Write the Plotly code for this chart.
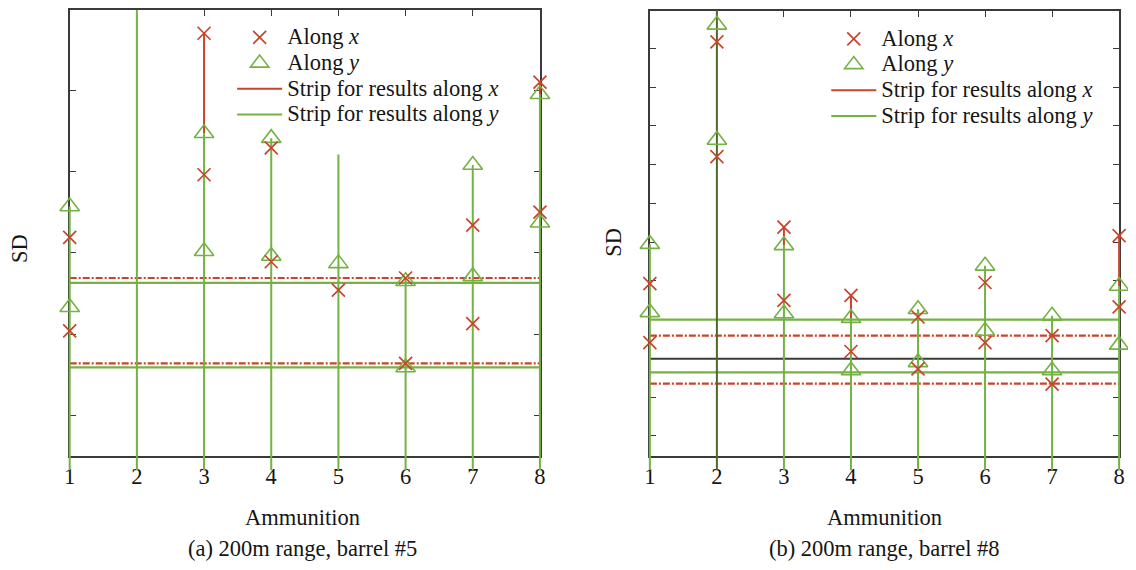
import plotly.graph_objects as go

# page is shown with the browser's default 8px body margin -> work in page pixels, shift by OFF
W, H = 1136, 570
OFF = 8
FW, FH = W - OFF, H - OFF

# ---------------- data ----------------
ammo = [1, 2, 3, 4, 5, 6, 7, 8]
tick_labels = ["1", "2", "3", "4", "5", "6", "7", "8"]

# (a) 200m range, barrel #5
a_along_x_hi = [2.19, None, 4.70, 3.29, 1.54, 1.69, 2.34, 4.10]
a_along_x_lo = [1.04, None, 2.96, 1.89, None, 0.64, 1.13, 2.50]
a_along_y_hi = [2.57, None, 3.47, 3.41, 1.87, 1.65, 3.08, 3.95]
a_along_y_lo = [1.33, None, 2.02, 1.96, None, 0.59, 1.71, 2.37]
a_stem_green = [2.57, 5.30, 3.47, 3.41, 3.21, 1.69, 3.08, 3.95]
a_stem_red = [None, None, 4.70, None, None, None, None, 4.10]
a_stem_dark = [None] * 8
a_strip_x = [0.64, 1.69]
a_strip_y = [0.59, 1.63]
a_ref = []

# (b) 200m range, barrel #8
b_along_x_hi = [3.93, 10.17, 5.39, 3.63, 3.07, 3.96, 2.59, 5.17]
b_along_x_lo = [2.41, 7.21, 3.50, 2.18, 1.73, 2.41, 1.34, 3.33]
b_along_y_hi = [4.95, 10.61, 4.92, 3.04, 3.27, 4.39, 3.10, 3.87]
b_along_y_lo = [3.19, 7.64, 3.16, 1.69, 1.90, 2.71, 1.69, 2.35]
b_stem_green = [4.95, None, 4.92, 3.04, 3.27, 4.39, 3.10, 3.87]
b_stem_red = [None, None, 5.39, 3.63, None, None, None, 5.17]
b_stem_dark = [None, 11.5, None, None, None, None, None, None]
b_strip_x = [1.35, 2.59]
b_strip_y = [1.64, 3.00]
b_ref = [1.99]

# ---------------- styles ----------------
RED = "#c8442c"
GREEN = "#74b243"
DARK = "#4c6a2a"
FRAME = "#3a3a3a"
FONT = "Liberation Serif"
TXT = "#151515"
FS = 22.5

fig = go.Figure()


def clamp(v):
    return min(1.0, max(0.0, v))


def xdom(p0, p1):
    return [clamp((p0 - OFF) / FW), clamp((p1 - OFF) / FW)]


def ydom(top, bot):
    return [clamp(1 - (bot - OFF) / FH), clamp(1 - (top - OFF) / FH)]


def data_box(frame, xr, yr, dpx):
    fx0, fx1, fy0, fy1 = frame
    dx0, dx1, dy0, dy1 = dpx
    sx = (xr[1] - xr[0]) / (fx1 - fx0)
    sy = (yr[1] - yr[0]) / (fy1 - fy0)
    dxr = [xr[0] - (fx0 - dx0) * sx, xr[1] + (dx1 - fx1) * sx]
    dyr = [yr[0] - (dy1 - fy1) * sy, yr[1] + (fy0 - dy0) * sy]
    return xdom(dx0, dx1), ydom(dy0, dy1), dxr, dyr


def legtxt(s):
    return f"<span style='font-size:{FS}px'>{s}</span>"


panels = [
    dict(frame=(64.3, 539.6, 8.0, 455.7), yr=[-0.5, 4.986], ticks=list(range(0, 6)),
         data=(54, 550, 8, 470),
         xhi=a_along_x_hi, xlo=a_along_x_lo, yhi=a_along_y_hi, ylo=a_along_y_lo,
         sg=a_stem_green, sr=a_stem_red, sd=a_stem_dark, stx=a_strip_x, sty=a_strip_y, ref=a_ref,
         legend="legend"),
    dict(frame=(650.7, 1125.0, 9.3, 455.7), yr=[-0.52, 10.96], ticks=list(range(0, 12)),
         data=(640, 1136, 8, 470),
         xhi=b_along_x_hi, xlo=b_along_x_lo, yhi=b_along_y_hi, ylo=b_along_y_lo,
         sg=b_stem_green, sr=b_stem_red, sd=b_stem_dark, stx=b_strip_x, sty=b_strip_y, ref=b_ref,
         legend="legend2"),
]

layout_axes = {}
for i, p in enumerate(panels):
    fx0, fx1, fy0, fy1 = p["frame"]
    fa = i + 1
    sfx = "" if fa == 1 else str(fa)
    # frame axes (subplots xy, x2y2) drawn first
    layout_axes[f"xaxis{sfx}"] = dict(
        domain=xdom(fx0, fx1), range=[1, 8], anchor=f"y{sfx}",
        showline=True, linecolor=FRAME, linewidth=1.6, mirror="ticks",
        ticks="inside", ticklen=6, tickcolor=FRAME, tickwidth=1.2,
        tickvals=ammo, ticktext=tick_labels, showgrid=False, zeroline=False,
        ticklabelstandoff=-1,
        tickfont=dict(family=FONT, size=FS, color=TXT), fixedrange=True)
    layout_axes[f"yaxis{sfx}"] = dict(
        domain=ydom(fy0, fy1), range=p["yr"], anchor=f"x{sfx}",
        showline=True, linecolor=FRAME, linewidth=1.6, mirror="ticks",
        ticks="inside", ticklen=6, tickcolor=FRAME, tickwidth=1.2,
        tickvals=p["ticks"], showticklabels=False, showgrid=False, zeroline=False,
        fixedrange=True)
    fig.add_trace(go.Scatter(x=[None], y=[None], xaxis=f"x{sfx}", yaxis=f"y{sfx}",
                             mode="markers", showlegend=False, hoverinfo="skip"))

    # data axes (subplots x3y3, x4y4) drawn on top of the frame
    dxd, dyd, dxr, dyr = data_box(p["frame"], [1, 8], p["yr"], p["data"])
    da = i + 3
    layout_axes[f"xaxis{da}"] = dict(domain=dxd, range=dxr, anchor=f"y{da}", visible=False,
                                    fixedrange=True)
    layout_axes[f"yaxis{da}"] = dict(domain=dyd, range=dyr, anchor=f"x{da}", visible=False,
                                    fixedrange=True)
    xa, ya = f"x{da}", f"y{da}"

    gx, gy, rx, ry, kx, ky = [], [], [], [], [], []
    lo = p["yr"][0] - 1
    for a, g, r, d in zip(ammo, p["sg"], p["sr"], p["sd"]):
        if g is not None:
            gx += [a, a, None]
            gy += [lo, g, None]
            if r is not None:
                rx += [a, a, None]
                ry += [g, r, None]
        if d is not None:
            kx += [a, a, None]
            ky += [lo, d, None]

    for v in p["sty"]:
        fig.add_trace(go.Scatter(x=[1, 8], y=[v, v], mode="lines", xaxis=xa, yaxis=ya,
                                 line=dict(color=GREEN, width=2.2), showlegend=False,
                                 hoverinfo="skip"))
    for v in p["stx"]:
        fig.add_trace(go.Scatter(x=[1, 8], y=[v, v], mode="lines", xaxis=xa, yaxis=ya,
                                 line=dict(color=RED, width=2.2, dash="7px,2px,2px,2px"),
                                 showlegend=False, hoverinfo="skip"))
    for v in p["ref"]:
        fig.add_trace(go.Scatter(x=[1, 8], y=[v, v], mode="lines", xaxis=xa, yaxis=ya,
                                 line=dict(color=FRAME, width=2), showlegend=False,
                                 hoverinfo="skip"))

    if kx:
        fig.add_trace(go.Scatter(x=kx, y=ky, mode="lines", xaxis=xa, yaxis=ya,
                                 line=dict(color=DARK, width=2), showlegend=False,
                                 hoverinfo="skip"))
    fig.add_trace(go.Scatter(x=gx, y=gy, mode="lines", xaxis=xa, yaxis=ya,
                             line=dict(color=GREEN, width=2),
                             name=legtxt("Strip for results along <i>y</i>"),
                             legend=p["legend"], legendrank=4))
    fig.add_trace(go.Scatter(x=rx, y=ry, mode="lines", xaxis=xa, yaxis=ya,
                             line=dict(color=RED, width=2),
                             name=legtxt("Strip for results along <i>x</i>"),
                             legend=p["legend"], legendrank=3))

    fig.add_trace(go.Scatter(x=ammo + ammo, y=p["yhi"] + p["ylo"], mode="markers",
                             xaxis=xa, yaxis=ya, cliponaxis=False,
                             marker=dict(symbol="triangle-up-open", size=17, color=GREEN,
                                         line=dict(width=1.6, color=GREEN)),
                             name=legtxt("Along <i>y</i>"), legend=p["legend"], legendrank=2))
    fig.add_trace(go.Scatter(x=ammo + ammo, y=p["xhi"] + p["xlo"], mode="markers",
                             xaxis=xa, yaxis=ya, cliponaxis=False,
                             marker=dict(symbol="x-thin-open", size=13, color=RED,
                                         line=dict(width=1.7, color=RED)),
                             name=legtxt("Along <i>x</i>"), legend=p["legend"], legendrank=1))

leg_common = dict(xanchor="left", yanchor="top", bgcolor="rgba(0,0,0,0)",
                  font=dict(family=FONT, size=17.5, color=TXT), itemwidth=45,
                  tracegroupgap=0, traceorder="normal")


def px_x(p):
    return (p - OFF) / FW


def px_y(p):
    return 1 - (p - OFF) / FH


annotations = []
for cx, cap in [(300, "(a) 200m range, barrel #5"), (888, "(b) 200m range, barrel #8")]:
    annotations.append(dict(x=px_x(cx), y=px_y(517), xref="paper", yref="paper",
                            xanchor="center", yanchor="middle",
                            text="Ammunition", showarrow=False,
                            font=dict(family=FONT, size=FS, color=TXT)))
    annotations.append(dict(x=px_x(cx), y=px_y(548), xref="paper", yref="paper",
                            xanchor="center", yanchor="middle",
                            text=cap, showarrow=False,
                            font=dict(family=FONT, size=FS, color=TXT)))
for sx, sy, shift in [(20, 247, -7), (614, 241, 0)]:
    annotations.append(dict(x=px_x(sx), y=px_y(sy), xref="paper", yref="paper",
                            xanchor="center", yanchor="middle", xshift=shift,
                            text="SD", textangle=-90, showarrow=False,
                            font=dict(family=FONT, size=FS, color=TXT)))

fig.update_layout(
    width=FW, height=FH, autosize=False,
    margin=dict(l=0, r=0, t=0, b=0, pad=0),
    paper_bgcolor="white", plot_bgcolor="rgba(0,0,0,0)",
    showlegend=True,
    legend=dict(x=px_x(228.5), y=px_y(17.5), **leg_common),
    legend2=dict(x=px_x(829), y=px_y(19), **leg_common),
    annotations=annotations,
    **layout_axes,
)

fig.write_html("out.html")
